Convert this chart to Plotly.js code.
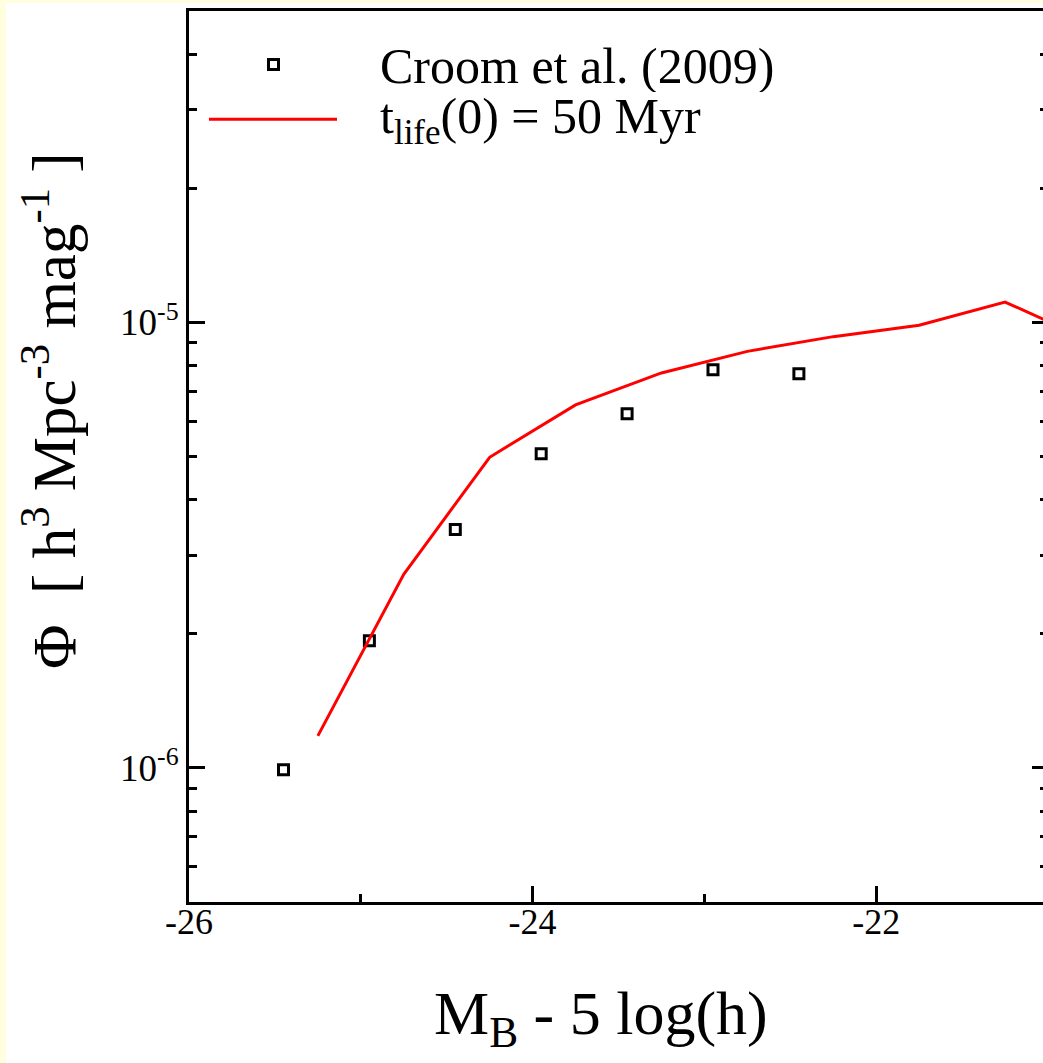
<!DOCTYPE html>
<html>
<head>
<meta charset="utf-8">
<script src="https://cdn.plot.ly/plotly-3.0.1.min.js"></script>
<style>
  html, body { margin: 0; padding: 0; background: #FFFFE0; overflow: hidden; }
  #chart { position: absolute; left: 6px; top: 3px; width: 1100px; height: 1060px; }
</style>
</head>
<body>
<div id="chart"></div>
<script>
// Croom et al. (2009) luminosity function points
const croomMag = [-25.45, -24.95, -24.45, -23.95, -23.45, -22.95, -22.45];
const croomPhi = [9.9e-7, 1.93e-6, 3.43e-6, 5.07e-6, 6.24e-6, 7.83e-6, 7.67e-6];

// Model curve, t_life(0) = 50 Myr
const modelMag = [-25.25, -24.75, -24.25, -23.75, -23.25, -22.75, -22.25, -21.75, -21.25, -20.75];
const modelPhi = [1.18e-6, 2.72e-6, 4.98e-6, 6.53e-6, 7.70e-6, 8.61e-6, 9.29e-6, 9.85e-6, 1.111e-5, 9.09e-6];

// Legend labels
const seriesNames = ["Croom et al. (2009)", "t<sub>life</sub>(0) = 50 Myr"];

// Axis ticks
const xTickVals = [-26, -24, -22];
const xTickText = ["-26", "-24", "-22"];
const yTickVals = [1e-6, 1e-5];
const yTickText = ["10<sup>-6</sup>", "10<sup>-5</sup>"];
const yMinorVals = [6e-7, 7e-7, 8e-7, 9e-7, 2e-6, 3e-6, 4e-6, 5e-6, 6e-6, 7e-6, 8e-6, 9e-6, 2e-5, 3e-5, 4e-5];

const FONT = "Liberation Serif, Times New Roman, serif";

// plot-area geometry (pixels inside the chart div)
const M = { l: 183, t: 8, w: 859, h: 891 };
const W = 1100, H = 1060;
const px = x => (x - M.l) / M.w;
const py = y => 1 - (y - M.t) / M.h;

const traces = [
  {
    x: croomMag, y: croomPhi, name: seriesNames[0],
    type: "scatter", mode: "markers",
    marker: { symbol: "square-open", size: 10, color: "#000", line: { width: 3, color: "#000" } },
    showlegend: false
  },
  {
    x: modelMag, y: modelPhi, name: seriesNames[1],
    type: "scatter", mode: "lines",
    line: { color: "#FF0000", width: 3 },
    showlegend: false
  }
];

const layout = {
  width: W, height: H,
  margin: { l: M.l, t: M.t, r: W - M.l - M.w, b: H - M.t - M.h },
  paper_bgcolor: "#FFFFFF",
  plot_bgcolor: "#FFFFFF",
  font: { family: FONT, color: "#000" },
  showlegend: false,
  xaxis: {
    range: [-26, -21],
    showgrid: false, zeroline: false,
    showline: true, linecolor: "#000", linewidth: 3, mirror: true,
    tickmode: "array", tickvals: xTickVals, ticktext: xTickText,
    ticks: "inside", ticklen: 16, tickwidth: 3, tickcolor: "#000",
    ticklabelstandoff: -14,
    tickfont: { family: FONT, size: 36, color: "#000" },
    minor: { tickmode: "linear", tick0: -26, dtick: 1, ticks: "inside", ticklen: 8, tickwidth: 3, tickcolor: "#000", showgrid: false }
  },
  yaxis: {
    type: "log",
    range: [Math.log10(5e-7), Math.log10(5e-5)],
    showgrid: false, zeroline: false,
    showline: true, linecolor: "#000", linewidth: 3, mirror: "ticks",
    tickmode: "array", tickvals: yTickVals, ticktext: yTickText,
    ticks: "inside", ticklen: 16, tickwidth: 3, tickcolor: "#000",
    tickfont: { family: FONT, size: 37, color: "#000" },
    minor: { tickmode: "array", tickvals: yMinorVals, ticks: "inside", ticklen: 8, tickwidth: 3, tickcolor: "#000", showgrid: false }
  },
  shapes: [
    // legend key: open square
    { type: "rect", xref: "paper", yref: "paper", xsizemode: "pixel", ysizemode: "pixel",
      xanchor: px(267.5), yanchor: py(61.5), x0: -5, x1: 5, y0: -5, y1: 5,
      line: { color: "#000", width: 3 }, fillcolor: "rgba(0,0,0,0)" },
    // legend key: red line
    { type: "line", xref: "paper", yref: "paper",
      x0: px(203), x1: px(331), y0: py(116.3), y1: py(116.3),
      line: { color: "#FF0000", width: 3 } }
  ],
  annotations: [
    { text: seriesNames[0], xref: "paper", yref: "paper", x: px(372), y: py(62.5),
      xanchor: "left", yanchor: "middle", showarrow: false, height: 52,
      font: { family: FONT, size: 50, color: "#000" } },
    { text: seriesNames[1], xref: "paper", yref: "paper", x: px(372), y: py(116.5),
      xanchor: "left", yanchor: "middle", showarrow: false, height: 52,
      font: { family: FONT, size: 50, color: "#000" } },
    // axis titles
    { text: "M<sub>B</sub> - 5 log(h)", xref: "paper", yref: "paper", x: px(595), y: py(1014),
      xanchor: "center", yanchor: "middle", showarrow: false,
      font: { family: FONT, size: 62, color: "#000" } },
    { text: "\u03A6\u00A0\u00A0[ h<sup>3</sup> Mpc<sup>-3</sup> mag<sup>-1</sup> ]", xref: "paper", yref: "paper",
      x: px(44), y: py(408), textangle: -90,
      xanchor: "center", yanchor: "middle", showarrow: false,
      font: { family: FONT, size: 61, color: "#000" } }
  ]
};

Plotly.newPlot("chart", traces, layout, { staticPlot: true, displayModeBar: false });
</script>
</body>
</html>
